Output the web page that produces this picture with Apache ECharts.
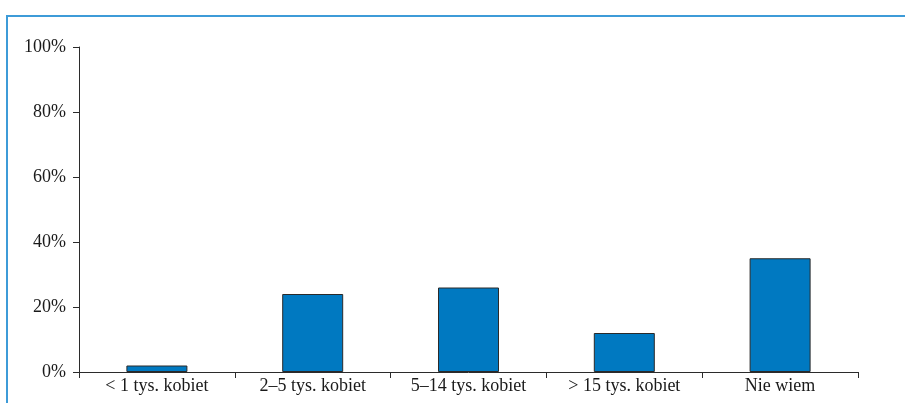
<!DOCTYPE html>
<html>
<head>
<meta charset="utf-8">
<style>
  html, body { margin: 0; padding: 0; background: #ffffff; }
  #chart { width: 905px; height: 403px; }
</style>
<script src="https://cdn.jsdelivr.net/npm/echarts@6/dist/echarts.min.js"></script>
</head>
<body>
<div id="chart"></div>
<script>
// Szacowana liczba kobiet – odsetek odpowiedzi
const categories = ['< 1 tys. kobiet', '2–5 tys. kobiet', '5–14 tys. kobiet', '> 15 tys. kobiet', 'Nie wiem'];
const shares = [2, 24, 26, 12, 35];
const yTicks = [0, 20, 40, 60, 80, 100];

const chart = echarts.init(document.getElementById('chart'), null, { renderer: 'canvas' });

const fontFamily = '"Liberation Serif", "Times New Roman", serif';

chart.setOption({
  animation: false,
  backgroundColor: '#ffffff',
  graphic: [{
    type: 'rect',
    shape: { x: 7, y: 16, width: 1000, height: 500 },
    style: { fill: 'none', stroke: '#3d9bd8', lineWidth: 2 },
    silent: true,
    z: 0
  }],
  grid: { left: 79, right: 47, top: 47, bottom: 31, containLabel: false },
  xAxis: {
    type: 'category',
    data: categories,
    axisLine: { lineStyle: { color: '#2b2b2b', width: 1 } },
    axisTick: { show: true, alignWithLabel: false, length: 6, lineStyle: { color: '#2b2b2b' } },
    axisLabel: { color: '#1a1a1a', fontSize: 18, fontFamily: fontFamily, margin: 5 }
  },
  yAxis: {
    type: 'value',
    min: yTicks[0],
    max: yTicks[yTicks.length - 1],
    interval: yTicks[1] - yTicks[0],
    splitLine: { show: false },
    axisLine: { show: true, lineStyle: { color: '#2b2b2b', width: 1 } },
    axisTick: { show: true, length: 6, lineStyle: { color: '#2b2b2b' } },
    axisLabel: { color: '#1a1a1a', fontSize: 18, fontFamily: fontFamily, margin: 13, formatter: '{value}%' }
  },
  series: [{
    type: 'bar',
    data: shares,
    barWidth: 61,
    itemStyle: { color: '#0079c1', borderColor: '#2a2a2a', borderWidth: 1 }
  }]
});
</script>
</body>
</html>
